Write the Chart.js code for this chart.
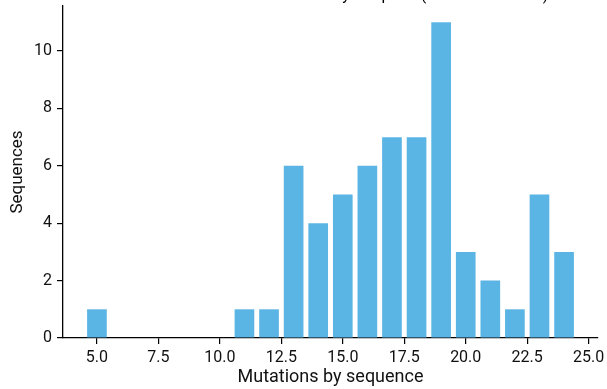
<!DOCTYPE html>
<html>
<head>
<meta charset="utf-8">
<script src="https://cdn.jsdelivr.net/npm/chart.js@4/dist/chart.umd.min.js"></script>
<style>
  html, body { margin: 0; padding: 0; background: #fff; }
  #wrap { width: 607px; height: 389px; }
</style>
</head>
<body>
<div id="wrap"><canvas id="hist"></canvas></div>
<script>
// mutations per sequence -> number of sequences
const mutations = [5, 11, 12, 13, 14, 15, 16, 17, 18, 19, 20, 21, 22, 23, 24];
const sequences = [1, 1, 1, 6, 4, 5, 6, 7, 7, 11, 3, 2, 1, 5, 3];
const xTicks = [5, 7.5, 10, 12.5, 15, 17.5, 20, 22.5, 25];
const yTicks = [0, 2, 4, 6, 8, 10];

const chartTitle = "Distribution of the number of mutations by template (mutation counts)";
const barColor = "#5ab4e4";
const font = "Roboto";

// title sits mostly above the visible area, only descenders show
const cutTitle = {
  id: "cutTitle",
  afterDraw(chart) {
    const ctx = chart.ctx;
    ctx.save();
    ctx.font = "16px " + font;
    ctx.fillStyle = "#000";
    ctx.textAlign = "center";
    ctx.textBaseline = "alphabetic";
    ctx.fillText(chartTitle, chart.width / 2 - 5, 0);
    ctx.restore();
  }
};

const axisGrid = { drawOnChartArea: false, drawTicks: true, tickLength: 6, color: "#000", lineWidth: 1.2, offset: false };

new Chart(document.getElementById("hist"), {
  type: "bar",
  data: {
    datasets: [{
      data: mutations.map((m, i) => ({ x: m, y: sequences[i] })),
      backgroundColor: barColor,
      borderWidth: 0,
      barPercentage: 0.8,
      categoryPercentage: 1.0
    }]
  },
  options: {
    responsive: true,
    maintainAspectRatio: false,
    animation: false,
    layout: { padding: { top: 6, right: 9, left: 0, bottom: 0 } },
    plugins: { legend: { display: false }, tooltip: { enabled: false } },
    scales: {
      x: {
        type: "linear",
        offset: false,
        min: 3.62,
        max: 25.38,
        afterBuildTicks: s => { s.ticks = xTicks.map(v => ({ value: v })); },
        afterFit: s => {
          s.height = 51;
          s.paddingLeft = 0;
          s.paddingRight = 0;
        },
        grid: axisGrid,
        border: { color: "#000", width: 1.3 },
        ticks: {
          color: "#111",
          font: { family: font, size: 16 },
          padding: 4,
          maxRotation: 0,
          callback: v => Number(v).toFixed(1)
        },
        title: {
          display: true,
          text: "Mutations by sequence",
          color: "#111",
          font: { family: font, size: 18 },
          padding: { top: 0, bottom: 1 }
        }
      },
      y: {
        min: 0,
        max: 11.57,
        afterBuildTicks: s => { s.ticks = yTicks.map(v => ({ value: v })); },
        afterFit: s => {
          s.width = 63;
          s.paddingTop = 0;
          s.paddingBottom = 0;
        },
        grid: axisGrid,
        border: { color: "#000", width: 1.3 },
        ticks: {
          color: "#111",
          font: { family: font, size: 16 },
          padding: 5
        },
        title: {
          display: true,
          text: "Sequences",
          color: "#111",
          font: { family: font, size: 17 },
          padding: { top: 8, bottom: 0 }
        }
      }
    }
  },
  plugins: [cutTitle]
});
</script>
</body>
</html>
